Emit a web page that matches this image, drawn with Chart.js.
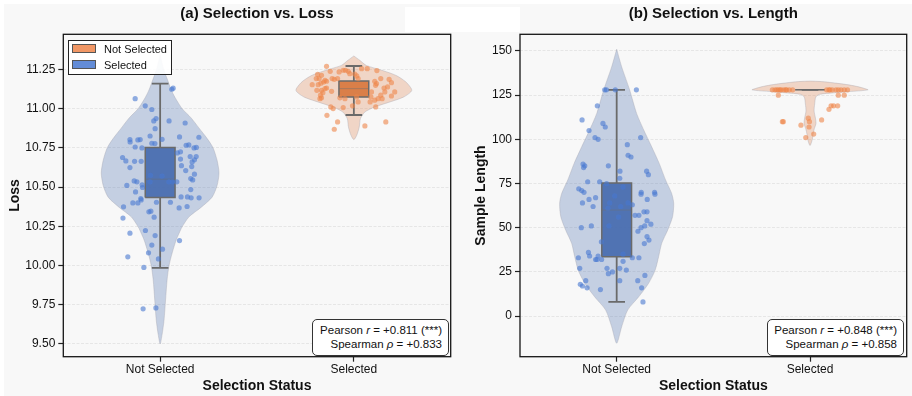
<!DOCTYPE html>
<html>
<head>
<meta charset="utf-8">
<title>Selection vs. Loss / Length</title>
<script src="https://cdn.jsdelivr.net/npm/chart.js@4.4.1/dist/chart.umd.min.js"></script>
<style>
  html, body { margin: 0; padding: 0; background: #fff; }
  #fig { position: relative; width: 912px; height: 396px; overflow: hidden; font-family: "Liberation Sans", Arial, sans-serif; color: #111; }
  #bg { position: absolute; left: 4px; top: 4px; width: 908px; height: 392px; background: #f8f8f8; }
  #gap { position: absolute; left: 405px; top: 7px; width: 115px; height: 25px; background: #fff; }
  canvas { position: absolute; top: 0; }
  #c1 { left: 0; }
  #c2 { left: 456px; }
  .legend { position: absolute; left: 68px; top: 40px; width: 104px; height: 35px; box-sizing: border-box; border: 1px solid #222; background: rgba(255,255,255,0.9); font-size: 11px; }
  .legend .sw { position: absolute; left: 3px; width: 22px; height: 7px; border: 1px solid #555; }
  .legend .lb { position: absolute; left: 35px; line-height: 14px; white-space: nowrap; }
  .stats { position: absolute; top: 319px; width: 137px; height: 37px; box-sizing: border-box; border: 1px solid #333; border-radius: 5px; background: #fff; font-size: 11.5px; line-height: 14.3px; text-align: right; padding: 3px 6px 0 0; white-space: nowrap; }
</style>
</head>
<body>
<div id="fig">
  <div id="bg"></div>
  <div id="gap"></div>
  <canvas id="c1" width="456" height="396"></canvas>
  <canvas id="c2" width="456" height="396"></canvas>
  <div class="legend">
    <div class="sw" style="top:3px;background:rgba(238,133,74,0.85)"></div><div class="lb" style="top:1px">Not Selected</div>
    <div class="sw" style="top:19px;background:rgba(72,120,208,0.85)"></div><div class="lb" style="top:17px">Selected</div>
  </div>
  <div class="stats" style="left:312px">Pearson <i>r</i> = +0.811 (***)<br>Spearman <i>&rho;</i> = +0.833</div>
  <div class="stats" style="left:767px">Pearson <i>r</i> = +0.848 (***)<br>Spearman <i>&rho;</i> = +0.858</div>
</div>
<script>
const categories = ['Not Selected', 'Selected'];

// ---------- (a) Selection vs. Loss ----------
const lossTicks = [9.50, 9.75, 10.00, 10.25, 10.50, 10.75, 11.00, 11.25];
const lossNotSel = [11.063,11.123,11.130,11.017,10.994,10.936,10.921,10.921,10.908,10.872,
  10.825,10.804,10.819,10.817,10.802,10.787,10.800,10.802,10.779,10.777,
  10.755,10.749,10.766,10.768,10.749,10.752,10.688,10.666,10.664,10.664,
  10.624,10.717,10.724,10.678,10.694,10.694,10.673,10.660,10.636,10.605,
  10.630,10.582,10.554,10.545,10.539,10.533,10.514,10.510,10.469,10.497,
  10.437,10.437,10.431,10.431,10.484,10.533,10.533,10.533,10.533,10.575,
  10.570,10.427,10.374,10.399,10.399,10.418,10.403,10.403,10.367,10.376,
  10.342,10.346,10.308,10.302,10.206,10.223,10.191,10.159,10.130,10.104,
  10.055,10.081,10.042,9.988,9.724,9.730];
const lossNotSelJitter = [-0.129,0.060,0.067,-0.077,-0.043,-0.021,-0.033,0.046,0.129,-0.026,
  -0.052,0.010,0.100,0.200,-0.156,-0.155,-0.115,-0.103,-0.043,-0.027,
  -0.129,-0.094,0.134,0.148,0.175,0.187,-0.194,-0.177,-0.132,-0.098,
  -0.156,0.089,0.105,0.105,0.155,0.186,0.177,0.165,0.110,0.132,
  0.163,0.177,0.158,0.168,-0.134,-0.120,-0.093,-0.172,-0.127,-0.091,
  0.108,0.141,0.160,0.201,0.158,0.064,0.045,0.086,-0.052,-0.050,
  0.010,-0.100,-0.189,-0.141,-0.115,-0.098,-0.019,0.053,0.098,0.139,
  -0.058,-0.048,-0.031,-0.192,-0.156,-0.076,-0.026,0.100,-0.043,0.012,
  -0.167,-0.060,-0.009,-0.084,-0.088,-0.022];
const lossSel = [11.269,11.218,11.191,11.191,11.212,11.180,11.169,11.174,11.161,11.152,
  11.116,11.116,11.101,11.085,11.063,11.068,11.127,11.131,11.237,11.191,
  11.186,11.191,11.233,11.244,11.244,11.237,11.222,11.220,11.208,11.191,
  11.254,11.254,11.242,11.191,11.174,11.159,11.148,11.131,11.138,11.165,
  11.186,11.106,11.085,11.063,11.063,11.106,11.074,11.053,11.080,11.106,
  11.110,11.068,11.063,11.010,11.000,11.006,11.074,11.042,11.017,10.957,
  10.915,10.868,10.889,10.915,11.042,11.010,11.152];
const lossSelJitter = [-0.141,-0.187,-0.194,-0.179,-0.167,-0.149,-0.156,-0.141,-0.170,-0.184,
  -0.191,-0.167,-0.160,-0.172,-0.175,-0.167,-0.149,-0.141,-0.122,-0.112,
  -0.101,-0.084,-0.076,-0.055,-0.043,-0.029,-0.021,0.005,0.015,0.022,
  0.040,0.069,0.119,0.139,0.108,0.117,0.112,0.156,0.174,0.194,
  0.182,0.160,0.139,0.146,0.125,0.091,0.088,0.108,0.194,0.211,
  -0.115,-0.072,-0.046,-0.119,-0.107,-0.055,0.014,0.022,-0.007,-0.139,
  -0.084,-0.101,0.057,0.165,0.084,0.113,-0.215];
// box stats, one entry per category
const lossQ1 = [10.433, 11.074];
const lossMedian = [10.55, 11.127];
const lossQ3 = [10.752, 11.176];
const lossWhiskerLo = [9.985, 10.959];
const lossWhiskerHi = [11.159, 11.271];
// violin density profile: y level and half width (category units)
const lossViolinNotY = [11.34,11.25,11.18,11.12,11.07,11.00,10.94,10.875,10.81,10.75,10.67,10.59,10.51,10.435,10.37,10.31,10.245,10.206,10.16,10.08,10.00,9.91,9.78,9.65,9.56,9.50];
const lossViolinNotW = [0,0.018,0.039,0.057,0.077,0.113,0.160,0.201,0.242,0.273,0.294,0.304,0.294,0.268,0.211,0.149,0.113,0.098,0.082,0.062,0.046,0.036,0.028,0.020,0.010,0];
const lossViolinSelY = [11.335,11.307,11.275,11.244,11.212,11.17,11.116,11.074,11.042,11.01,10.978,10.936,10.883,10.83,10.802];
const lossViolinSelW = [0,0.031,0.064,0.144,0.216,0.268,0.299,0.258,0.186,0.108,0.057,0.034,0.028,0.015,0];

// ---------- (b) Selection vs. Length ----------
const lenTicks = [0, 25, 50, 75, 100, 125, 150];
const lenNotSel = [128,128,128,128,119,111,109,107,105,101,
  100,101,97,91,90,86,85,84,85,82,
  78,82,80,76,76,75,72,71,70,70,
  70,73,67,66,64,62,69,69,66,63,
  68,64,62,64,61,59,59,57,57,56,
  54,52,51,50,48,50,51,51,45,43,
  41,42,36,34,32,32,32,34,33,33,
  35,33,27,27,25,24,27,31,26,20,
  18,17,16,15,20,20,23,16,8];
const lenNotSelJitter = [-0.062,-0.053,-0.007,0.102,-0.100,-0.179,-0.071,-0.059,-0.143,-0.112,
  -0.096,0.124,0.055,0.059,0.074,-0.174,-0.165,-0.171,-0.043,0.017,
  0.016,0.155,0.164,-0.150,-0.088,-0.052,-0.196,-0.181,-0.169,0.127,
  0.196,0.033,-0.109,-0.143,-0.177,-0.122,0.126,0.198,0.158,0.081,
  -0.010,-0.036,0.021,0.059,-0.045,0.141,0.157,0.095,0.115,0.010,
  0.157,0.177,0.145,0.126,0.110,-0.183,-0.131,-0.040,0.157,0.167,
  0.143,-0.079,-0.146,-0.140,-0.109,-0.102,-0.078,-0.096,0.081,0.115,
  0.033,-0.198,-0.191,-0.050,-0.022,-0.043,0.016,0.033,0.050,-0.160,
  -0.188,-0.177,-0.153,-0.084,0.016,0.109,0.146,0.129,0.136];
const lenSel = [128,128,128,128,128,128,128,128,128,128,
  128,128,128,128,128,128,128,128,128,128,
  125,125,125,117,119,119,119,110,110,108,
  112,110,107,111,103,101];
const lenSelJitter = [-0.195,-0.181,-0.172,-0.164,-0.155,-0.150,-0.136,-0.126,-0.121,-0.107,
  -0.090,0.086,0.098,0.103,0.115,0.134,0.146,0.160,0.177,0.194,
  -0.164,0.146,0.177,0.098,0.109,0.122,0.143,-0.143,-0.138,-0.047,
  -0.009,-0.003,-0.005,0.060,0.019,-0.022];
const lenQ1 = [33.6, 128];
const lenMedian = [60, 128];
const lenQ3 = [75.3, 128];
const lenWhiskerLo = [8, 128];
const lenWhiskerHi = [128, 128];
const lenViolinNotY = [151,141,128,114.7,105.3,95.8,86.4,77,69.5,63.8,56.2,48.7,41.2,33.6,26,18.5,10.9,3.4,-6,-15.4];
const lenViolinNotW = [0,0.026,0.067,0.103,0.140,0.181,0.220,0.253,0.284,0.295,0.289,0.264,0.233,0.217,0.199,0.165,0.114,0.057,0.026,0];
const lenViolinSelY = [133,132.7,132,131,130,129,128,127,126.3,125.5,124,120,116,112,109,106,103,100,96.5];
const lenViolinSelW = [0,0.06,0.12,0.19,0.24,0.275,0.300,0.20,0.12,0.05,0.030,0.024,0.021,0.028,0.031,0.022,0.016,0.012,0];

const FONT = '"Liberation Sans", Arial, sans-serif';
const BOX_HALF = 0.077;
const CAP_HALF = 0.043;
const EDGE = '#6a6a6a';
const colors = {
  violin: ['rgba(76,114,176,0.3)', 'rgba(221,132,82,0.3)'],
  box: ['rgba(76,112,178,0.97)', 'rgba(217,124,69,0.97)'],
  point: ['rgba(72,120,208,0.6)', 'rgba(238,133,74,0.6)']
};

function violinOutline(ci, ys, ws) {
  const right = ys.map((y, i) => ({ x: ci + ws[i], y }));
  const left = ys.map((y, i) => ({ x: ci - ws[i], y })).reverse();
  return right.concat(left.slice(1));
}

function buildDatasets(p) {
  const points = [], whiskers = [], medians = [], boxes = [], violins = [];
  for (let ci = 0; ci < 2; ci++) {
    const vals = p.values[ci], jit = p.jitter[ci];
    points.push({
      type: 'scatter',
      data: vals.map((v, i) => ({ x: ci + jit[i], y: v })),
      pointRadius: 2.6, pointBorderWidth: 0,
      pointBackgroundColor: colors.point[ci], showLine: false
    });
    const lo = p.lo[ci], hi = p.hi[ci], q1 = p.q1[ci], q3 = p.q3[ci];
    whiskers.push({
      type: 'line',
      data: [
        { x: ci, y: lo }, { x: ci, y: q1 }, { x: ci, y: null },
        { x: ci, y: q3 }, { x: ci, y: hi }, { x: ci, y: null },
        { x: ci - CAP_HALF, y: lo }, { x: ci + CAP_HALF, y: lo }, { x: ci, y: null },
        { x: ci - CAP_HALF, y: hi }, { x: ci + CAP_HALF, y: hi }
      ],
      borderColor: EDGE, borderWidth: 1.8, pointRadius: 0, fill: false, spanGaps: false, tension: 0
    });
    medians.push({
      type: 'line',
      data: [{ x: ci - BOX_HALF, y: p.med[ci] }, { x: ci + BOX_HALF, y: p.med[ci] }],
      borderColor: 'rgba(110,110,110,0.45)', borderWidth: 1, pointRadius: 0, fill: false, tension: 0
    });
    boxes.push({
      type: 'line',
      data: [
        { x: ci - BOX_HALF, y: q1 }, { x: ci + BOX_HALF, y: q1 },
        { x: ci + BOX_HALF, y: q3 }, { x: ci - BOX_HALF, y: q3 }, { x: ci - BOX_HALF, y: q1 }
      ],
      borderColor: EDGE, borderWidth: 1.5, backgroundColor: colors.box[ci],
      pointRadius: 0, fill: 'shape', tension: 0
    });
    violins.push({
      type: 'line',
      data: violinOutline(ci, p.vy[ci], p.vw[ci]),
      borderColor: 'rgba(160,160,170,0.45)', borderWidth: 0.8, backgroundColor: colors.violin[ci],
      pointRadius: 0, fill: 'shape', tension: 0.25
    });
  }
  // first dataset is drawn on top
  return [...points, ...whiskers, ...medians, ...boxes, ...violins];
}

const framePlugin = {
  id: 'frame',
  afterDraw(chart) {
    const { ctx, chartArea: a } = chart;
    ctx.save();
    ctx.strokeStyle = '#151515';
    ctx.lineWidth = 1.3;
    ctx.strokeRect(a.left, a.top, a.right - a.left, a.bottom - a.top);
    ctx.restore();
  }
};

function makeChart(id, p) {
  return new Chart(document.getElementById(id), {
    type: 'line',
    data: { datasets: buildDatasets(p) },
    plugins: [framePlugin],
    options: {
      responsive: false, animation: false, devicePixelRatio: 1, events: [],
      layout: { padding: { left: 0, right: 5.3, top: 0, bottom: 0 } },
      plugins: {
        legend: { display: false },
        tooltip: { enabled: false },
        title: {
          display: true, text: p.title, fullSize: false, color: '#111',
          font: { family: FONT, size: 15, weight: 'bold' },
          padding: { top: 5, bottom: 11.3 }
        }
      },
      scales: {
        x: {
          type: 'linear', min: -0.5, max: 1.5,
          afterBuildTicks: s => { s.ticks = categories.map((c, i) => ({ value: i })); },
          afterFit: s => { s.height = 39.3; },
          ticks: { autoSkip: false, maxRotation: 0, callback: v => categories[v], color: '#111', font: { family: FONT, size: 12 }, padding: 1 },
          grid: { drawOnChartArea: false, drawTicks: true, tickLength: 5, tickColor: '#222', tickWidth: 1.2 },
          border: { display: false },
          title: { display: true, text: 'Selection Status', color: '#111', font: { family: FONT, size: 14, weight: 'bold' }, padding: { top: 0, bottom: 1.8 } }
        },
        y: {
          type: 'linear', min: p.yMin, max: p.yMax,
          afterBuildTicks: s => { s.ticks = p.ticks.map(v => ({ value: v })); },
          afterFit: s => { s.width = p.yWidth; },
          ticks: { autoSkip: false, callback: p.fmt, color: '#111', font: { family: FONT, size: 12 }, padding: 3 },
          grid: { color: 'rgba(0,0,0,0.09)', lineWidth: 0.8, tickLength: 5, tickColor: '#222', tickWidth: 1.2, tickBorderDash: [] },
          border: { display: false, dash: [3, 1.5] },
          title: { display: true, text: p.yTitle, color: '#111', font: { family: FONT, size: 14, weight: 'bold' }, padding: { top: p.yTitlePad, bottom: 0 } }
        }
      }
    }
  });
}

makeChart('c1', {
  title: '(a) Selection vs. Loss', yTitle: 'Loss', yTitlePad: 6.6, yWidth: 63.3,
  yMin: 9.419, yMax: 11.473, ticks: lossTicks, fmt: v => v.toFixed(2),
  values: [lossNotSel, lossSel], jitter: [lossNotSelJitter, lossSelJitter],
  q1: lossQ1, med: lossMedian, q3: lossQ3, lo: lossWhiskerLo, hi: lossWhiskerHi,
  vy: [lossViolinNotY, lossViolinSelY], vw: [lossViolinNotW, lossViolinSelW]
});

makeChart('c2', {
  title: '(b) Selection vs. Length', yTitle: 'Sample Length', yTitlePad: 16.6, yWidth: 64,
  yMin: -23.0, yMax: 159.45, ticks: lenTicks, fmt: v => String(v),
  values: [lenNotSel, lenSel], jitter: [lenNotSelJitter, lenSelJitter],
  q1: lenQ1, med: lenMedian, q3: lenQ3, lo: lenWhiskerLo, hi: lenWhiskerHi,
  vy: [lenViolinNotY, lenViolinSelY], vw: [lenViolinNotW, lenViolinSelW]
});
</script>
</body>
</html>
